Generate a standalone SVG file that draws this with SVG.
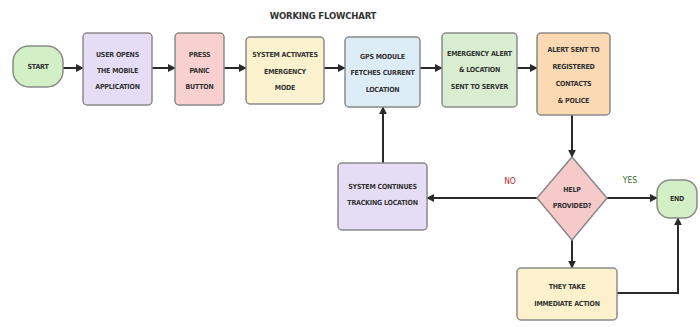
<svg xmlns="http://www.w3.org/2000/svg" width="700" height="327" viewBox="0 0 700 327">
<defs>
<marker id="ah" viewBox="0 0 10 10" refX="9" refY="5" markerWidth="4" markerHeight="4" orient="auto">
<path d="M0,0 L10,5 L0,10 z" fill="#2a2a2a"/>
</marker>
</defs>
<style>
.box{stroke:#8a8a8a;stroke-width:1.5}
.t{font-family:"DejaVu Sans Condensed","Liberation Sans",sans-serif;font-weight:bold;font-size:7px;letter-spacing:-0.2px;fill:#333;text-anchor:middle;dominant-baseline:middle}
.lbl{font-family:"DejaVu Sans Condensed","Liberation Sans",sans-serif;font-size:8.5px;text-anchor:middle;dominant-baseline:middle}
.title{font-family:"DejaVu Sans Condensed","Liberation Sans",sans-serif;font-weight:bold;font-size:9.5px;letter-spacing:-0.2px;fill:#333;text-anchor:middle;dominant-baseline:middle}
.c{fill:none;stroke:#2a2a2a;stroke-width:2;marker-end:url(#ah)}
</style>
<rect width="700" height="327" fill="#ffffff"/>
<text class="title" x="323" y="16">WORKING FLOWCHART</text>

<g id="connectors">
<line class="c" x1="63" y1="68" x2="83" y2="68"/>
<line class="c" x1="152" y1="68" x2="175" y2="68"/>
<line class="c" x1="224" y1="68" x2="246" y2="68"/>
<line class="c" x1="324" y1="68" x2="345" y2="68"/>
<line class="c" x1="420" y1="68" x2="442" y2="68"/>
<line class="c" x1="517" y1="68" x2="537" y2="68"/>
<line class="c" x1="572" y1="115" x2="572" y2="157"/>
<line class="c" x1="537" y1="198" x2="427" y2="198"/>
<line class="c" x1="383" y1="163" x2="383" y2="107"/>
<line class="c" x1="607" y1="198" x2="657" y2="198"/>
<line class="c" x1="572" y1="240" x2="572" y2="268"/>
<polyline class="c" points="617,293 678,293 678,218"/>
<text class="lbl" x="510" y="181" style="fill:#b03030">NO</text>
<text class="lbl" x="630" y="180" style="fill:#3a6b30">YES</text>
</g>

<g id="start">
<rect class="box" x="13" y="46" width="50" height="41" rx="16" fill="#d3efc6"/>
<text class="t" x="38" y="67">START</text>
</g>
<g id="user-opens">
<rect class="box" x="83" y="33" width="69" height="72" rx="4" fill="#e5ddf5"/>
<text class="t" x="117.5" y="55">USER OPENS</text>
<text class="t" x="117.5" y="71">THE MOBILE</text>
<text class="t" x="117.5" y="87">APPLICATION</text>
</g>
<g id="press-panic">
<rect class="box" x="175" y="33" width="49" height="72" rx="4" fill="#f9d0d0"/>
<text class="t" x="199.5" y="55">PRESS</text>
<text class="t" x="199.5" y="71">PANIC</text>
<text class="t" x="199.5" y="87">BUTTON</text>
</g>
<g id="system-activates">
<rect class="box" x="246" y="37" width="78" height="67" rx="4" fill="#fcf2d0"/>
<text class="t" x="285" y="55">SYSTEM ACTIVATES</text>
<text class="t" x="285" y="72">EMERGENCY</text>
<text class="t" x="285" y="88">MODE</text>
</g>
<g id="gps-module">
<rect class="box" x="345" y="37" width="75" height="70" rx="4" fill="#ddedf8"/>
<text class="t" x="382.5" y="57">GPS MODULE</text>
<text class="t" x="382.5" y="73">FETCHES CURRENT</text>
<text class="t" x="382.5" y="90">LOCATION</text>
</g>
<g id="emergency-alert">
<rect class="box" x="442" y="33" width="75" height="74" rx="4" fill="#d9edd0"/>
<text class="t" x="479.5" y="54">EMERGENCY ALERT</text>
<text class="t" x="479.5" y="70">&amp; LOCATION</text>
<text class="t" x="479.5" y="87">SENT TO SERVER</text>
</g>
<g id="alert-sent">
<rect class="box" x="537" y="33" width="73" height="82" rx="4" fill="#fbd9b3"/>
<text class="t" x="573.5" y="50">ALERT SENT TO</text>
<text class="t" x="573.5" y="67">REGISTERED</text>
<text class="t" x="573.5" y="84">CONTACTS</text>
<text class="t" x="573.5" y="101">&amp; POLICE</text>
</g>
<g id="help-provided">
<polygon class="box" points="572,157 607,198 572,240 537,198" fill="#f7caca"/>
<text class="t" x="572" y="190">HELP</text>
<text class="t" x="572" y="206">PROVIDED?</text>
</g>
<g id="system-continues">
<rect class="box" x="338" y="163" width="89" height="67" rx="4" fill="#e5ddf5"/>
<text class="t" x="382.5" y="187">SYSTEM CONTINUES</text>
<text class="t" x="382.5" y="203">TRACKING LOCATION</text>
</g>
<g id="end">
<rect class="box" x="657" y="180" width="40" height="38" rx="13" fill="#d3efc6"/>
<text class="t" x="677" y="199">END</text>
</g>
<g id="they-take">
<rect class="box" x="517" y="268" width="100" height="52" rx="4" fill="#fcf1cc"/>
<text class="t" x="567" y="287">THEY TAKE</text>
<text class="t" x="567" y="304">IMMEDIATE ACTION</text>
</g>
</svg>
